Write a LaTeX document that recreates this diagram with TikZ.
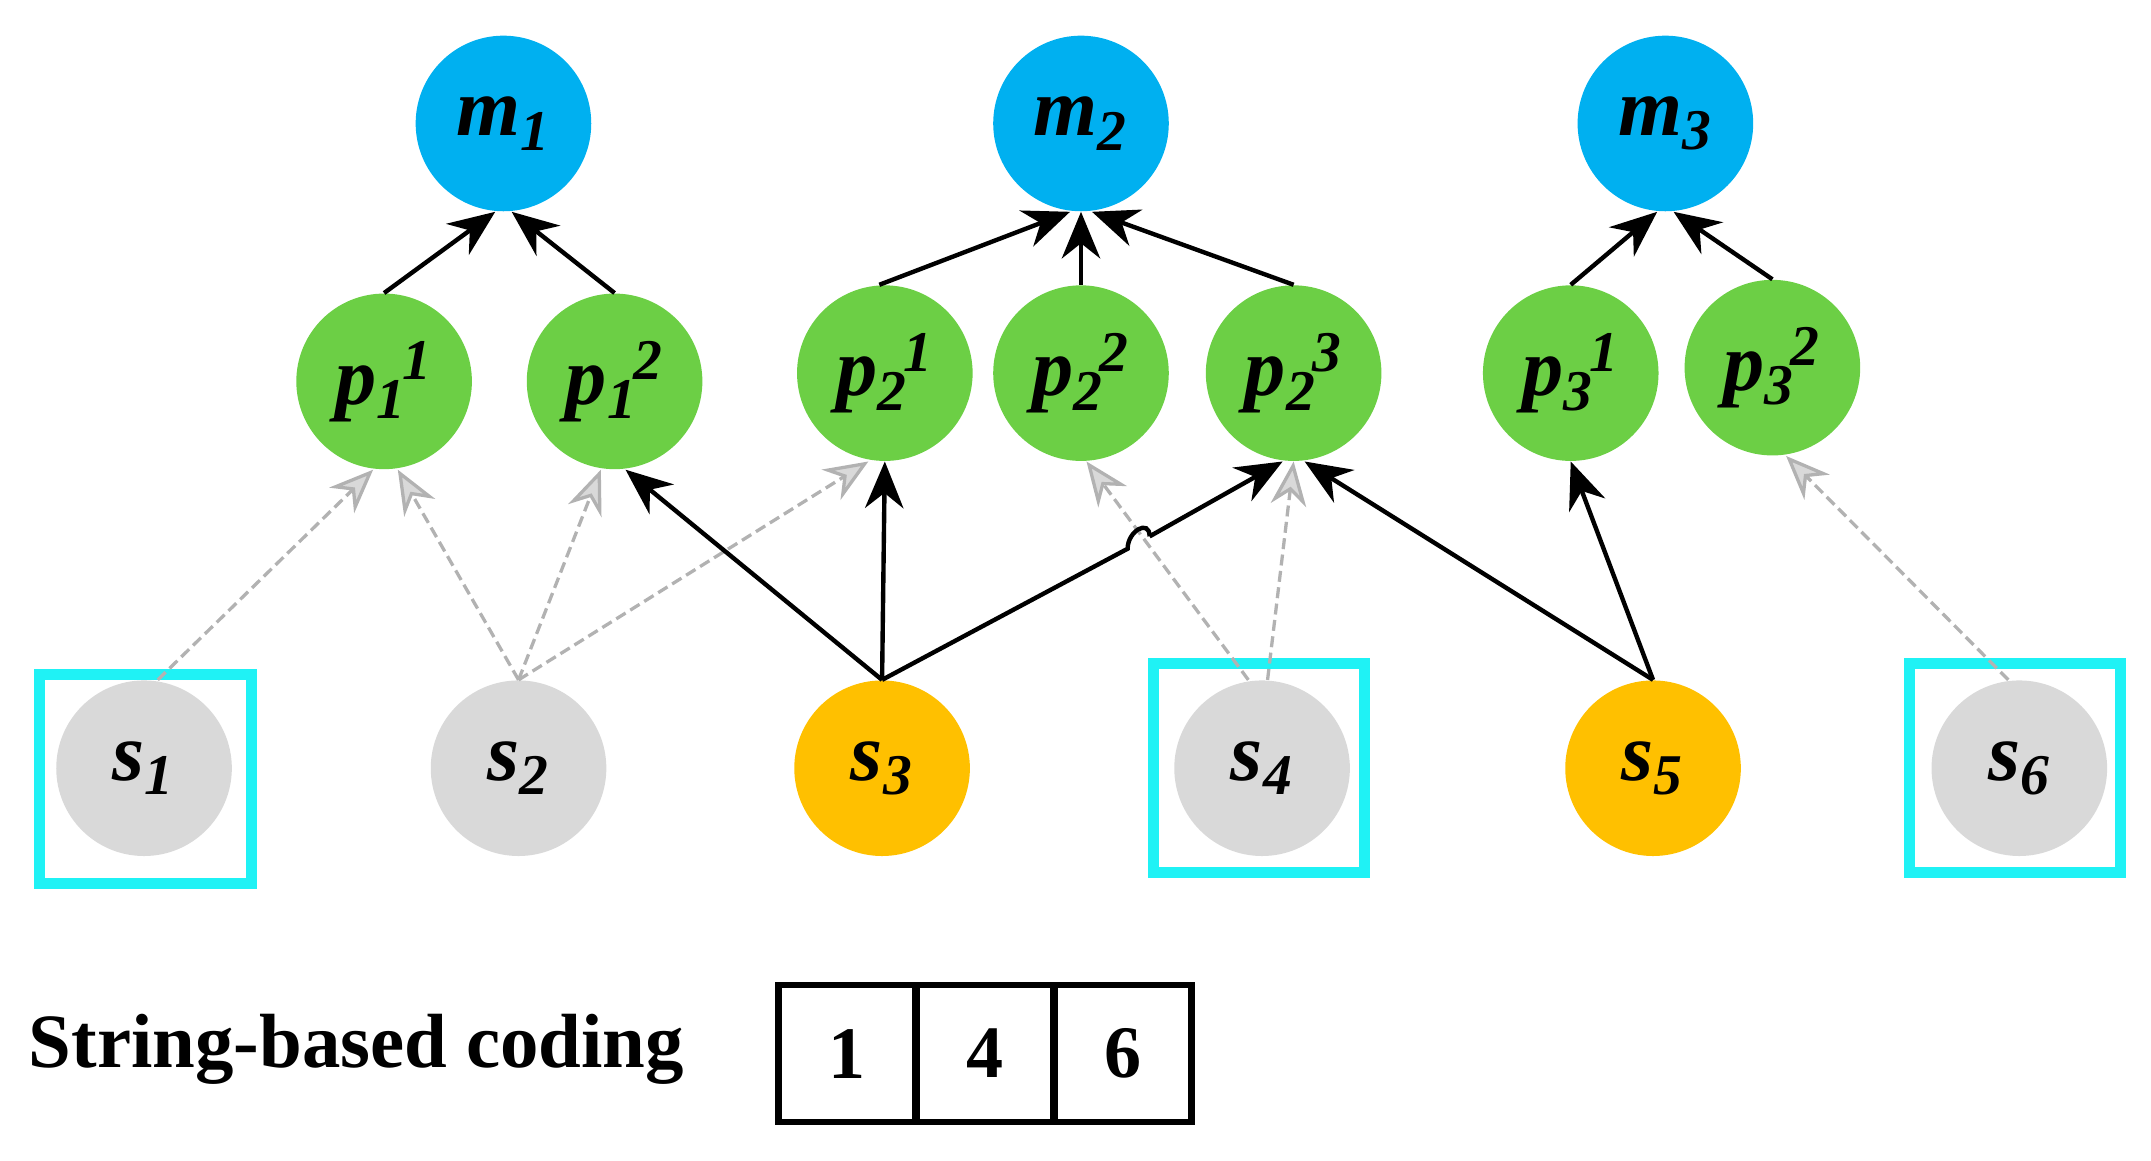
\documentclass[tikz,border=0pt]{standalone}
\usepackage{fontspec}
\setmainfont{Liberation Serif}
\usetikzlibrary{arrows.meta}
\definecolor{cblue}{HTML}{00B0F0}
\definecolor{cgreen}{HTML}{6CCF45}
\definecolor{cgray}{HTML}{D9D9D9}
\definecolor{corange}{HTML}{FFC000}
\definecolor{ccyan}{HTML}{1FF2F5}
\newcommand{\lab}[3]{#1\textsubscript{#2}\kern-0.05em\textsuperscript{#3}}
\begin{document}
\begin{tikzpicture}[x=0.5pt,y=-0.5pt,
  nd/.style={circle,minimum size=64pt,inner sep=0pt,font=\fontsize{30}{30}\selectfont\bfseries\itshape},
  mn/.style={nd,fill=cblue},
  pn/.style={nd,fill=cgreen},
  sg/.style={nd,fill=cgray},
  so/.style={nd,fill=corange},
  bx/.style={draw=ccyan,line width=4pt,minimum width=77pt,minimum height=76pt,inner sep=0pt},
  ba/.style={line width=1.6pt,-{Stealth[length=17pt,width=14pt]}},
  ga/.style={line width=1.2pt,draw=gray!60,dashed,dash pattern=on 4pt off 2pt,-{Stealth[length=16pt,width=13pt,fill=cgray]}},
  cb/.style={draw,line width=2.4pt,minimum width=50pt,minimum height=50pt,inner sep=0pt,font=\fontsize{27}{27}\selectfont\bfseries}]
\useasboundingbox (0,0) rectangle (1568,846);
\node[mn] (m1) at (367,90) {m\textsubscript{1}};
\node[mn] (m2) at (788,90) {m\textsubscript{2}};
\node[mn] (m3) at (1214,90) {m\textsubscript{3}};
\node[pn] (p11) at (280,278) {\lab{p}{1}{1}};
\node[pn] (p12) at (448,278) {\lab{p}{1}{2}};
\node[pn] (p21) at (645,272) {\lab{p}{2}{1}};
\node[pn] (p22) at (788,272) {\lab{p}{2}{2}};
\node[pn] (p23) at (943,272) {\lab{p}{2}{3}};
\node[pn] (p31) at (1145,272) {\lab{p}{3}{1}};
\node[pn] (p32) at (1292,268) {\lab{p}{3}{2}};
\node[sg] (s1) at (105,560) {s\textsubscript{1}};
\node[sg] (s2) at (378,560) {s\textsubscript{2}};
\node[so] (s3) at (643,560) {s\textsubscript{3}};
\node[sg] (s4) at (920,560) {s\textsubscript{4}};
\node[so] (s5) at (1205,560) {s\textsubscript{5}};
\node[sg] (s6) at (1472,560) {s\textsubscript{6}};
\node[bx] (b1) at (106,568) {};
\node[bx] (b4) at (918,560) {};
\node[bx] (b6) at (1469,560) {};
% top arrows
\draw[ba] (p11.north) -- ([xshift=-3pt]m1.south);
\draw[ba] (p12.north) -- ([xshift=3pt]m1.south);
\draw[ba] ([xshift=-2pt]p21.north) -- ([xshift=-4pt]m2.south);
\draw[ba] (p22.north) -- (m2.south);
\draw[ba] (p23.north) -- ([xshift=4pt]m2.south);
\draw[ba] (p31.north) -- ([xshift=-3pt]m3.south);
\draw[ba] (p32.north) -- ([xshift=3pt]m3.south);
% gray dashed
\draw[ga] ([xshift=5pt]s1.north) -- ([xshift=-4pt]p11.south);
\draw[ga] (s2.north) -- ([xshift=5pt]p11.south);
\draw[ga] (s2.north) -- ([xshift=-5pt]p12.south);
\draw[ga] (s2.north) -- ([xshift=-6pt]p21.south);
\draw[ga] ([xshift=-5pt]s4.north) -- ([xshift=2pt]p22.south);
\draw[ga] ([xshift=2pt]s4.north) -- ([xshift=0pt]p23.south);
\draw[ga] ([xshift=-4pt]s6.north) -- ([xshift=5pt]p32.south);
% black from s3, s5
\coordinate (j1) at (822,400);
\coordinate (j2) at (838,391);
\draw[ba] (s3.north) -- ([xshift=4pt]p12.south);
\draw[ba] (s3.north) -- (p21.south);
\draw[line width=1.6pt] (s3.north) -- (j1) .. controls +(0,-13) and +(0,-13) .. (j2);
\draw[ba] (j2) -- ([xshift=-4pt]p23.south);
\draw[ba] (s5.north) -- ([xshift=4pt]p23.south);
\draw[ba] (s5.north) -- (p31.south);
% coding
\node[anchor=west,font=\fontsize{28}{28}\selectfont\bfseries] (lbl) at (14,765) {String-based coding};
\node[cb] (c1) at (617.5,768) {1};
\node[cb] (c2) at (718,768) {4};
\node[cb] (c3) at (818.5,768) {6};
\end{tikzpicture}
\end{document}
